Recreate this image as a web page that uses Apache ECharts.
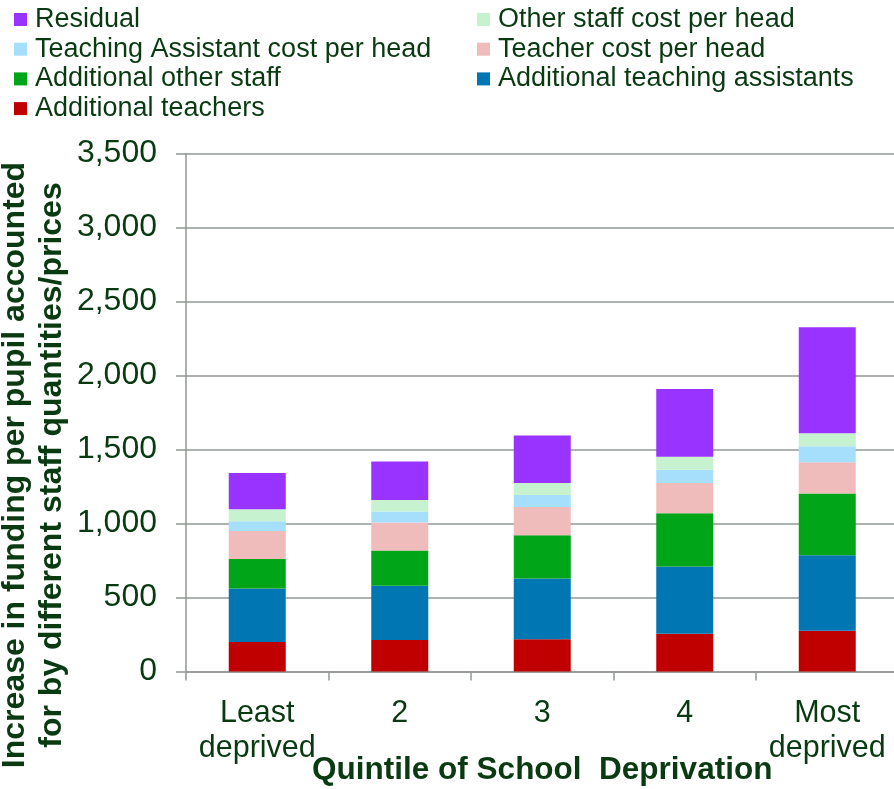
<!DOCTYPE html>
<html>
<head>
<meta charset="utf-8">
<script src="https://cdn.jsdelivr.net/npm/echarts@6/dist/echarts.min.js"></script>
<style>
  html, body { margin: 0; padding: 0; background: #ffffff; }
  #chart { width: 894px; height: 789px; }
</style>
</head>
<body>
<div id="chart"></div>
<script>
// Quintile categories along the x axis
const categories = ['Least\ndeprived', '2', '3', '4', 'Most\ndeprived'];

// Stacked components (bottom to top), £ per pupil
const additionalTeachers = [200, 212, 218, 255, 275];
const additionalTAs = [360, 367, 410, 455, 511];
const additionalOtherStaff = [200, 239, 292, 360, 417];
const teacherCost = [189, 189, 192, 203, 211];
const taCost = [66, 74, 81, 90, 108];
const otherStaffCost = [81, 77, 81, 88, 88];
const residual = [245, 261, 320, 457, 716];

// Value axis ticks
const yTicks = [0, 500, 1000, 1500, 2000, 2500, 3000, 3500];

const TEXT = '#0a3a12';
const GRID = '#939893';
const FONT = '"Liberation Sans", Arial, Helvetica, sans-serif';

const seriesDefs = [
  { name: 'Additional teachers', data: additionalTeachers, color: '#C00000' },
  { name: 'Additional teaching assistants', data: additionalTAs, color: '#0076B3' },
  { name: 'Additional other staff', data: additionalOtherStaff, color: '#00A518' },
  { name: 'Teacher cost per head', data: teacherCost, color: '#EFBBBB' },
  { name: 'Teaching Assistant cost per head', data: taCost, color: '#A6DFFB' },
  { name: 'Other staff cost per head', data: otherStaffCost, color: '#C6F2D0' },
  { name: 'Residual', data: residual, color: '#9933FF' }
];

const chart = echarts.init(document.getElementById('chart'), null, { renderer: 'canvas' });

const legendBase = {
  orient: 'vertical',
  icon: 'rect',
  itemWidth: 13,
  itemHeight: 13,
  itemGap: 2.7,
  padding: 0,
  selectedMode: false,
  textStyle: { color: TEXT, fontSize: 27, fontFamily: FONT, lineHeight: 26, padding: [0, 0, 0, 3] }
};

chart.setOption({
  animation: false,
  textStyle: { fontFamily: FONT },
  legend: [
    Object.assign({}, legendBase, {
      left: 14, top: 6,
      data: ['Residual', 'Teaching Assistant cost per head', 'Additional other staff', 'Additional teachers']
    }),
    Object.assign({}, legendBase, {
      left: 477, top: 6,
      data: ['Other staff cost per head', 'Teacher cost per head', 'Additional teaching assistants']
    })
  ],
  grid: { left: 186, right: -4.5, top: 153.5, bottom: 117.5, containLabel: false, outerBoundsMode: 'none' },
  xAxis: {
    type: 'category',
    data: categories,
    name: 'Quintile of School  Deprivation',
    nameLocation: 'middle',
    nameGap: 83,
    nameMoveOverlap: false,
    nameTextStyle: { color: TEXT, fontSize: 31.5, fontWeight: 'bold', fontFamily: FONT },
    axisLine: { lineStyle: { color: GRID, width: 1.5 } },
    axisTick: { show: true, length: 9, alignWithLabel: false, lineStyle: { color: GRID, width: 1.5 } },
    axisLabel: { color: TEXT, fontSize: 30.5, fontFamily: FONT, lineHeight: 35, margin: 25, interval: 0 }
  },
  yAxis: {
    type: 'value',
    min: yTicks[0],
    max: yTicks[yTicks.length - 1],
    interval: 500,
    axisLine: { show: true, lineStyle: { color: GRID, width: 1.5 } },
    axisTick: { show: true, length: 10, lineStyle: { color: GRID, width: 1.5 } },
    splitLine: { lineStyle: { color: GRID, width: 1.5 } },
    axisLabel: {
      color: TEXT, fontSize: 32, fontFamily: FONT, margin: 29,
      formatter: v => v.toLocaleString('en-GB')
    }
  },
  graphic: [{
    type: 'text',
    x: 34,
    y: 465,
    rotation: Math.PI / 2,
    style: {
      text: 'Increase in funding per pupil accounted\nfor by different staff quantities/prices',
      fill: TEXT,
      font: 'bold 32px ' + FONT,
      lineHeight: 37,
      textAlign: 'center',
      textVerticalAlign: 'middle'
    }
  }],
  series: seriesDefs.map(s => ({
    name: s.name,
    type: 'bar',
    stack: 'total',
    barWidth: 57,
    data: s.data,
    itemStyle: { color: s.color },
    emphasis: { disabled: true }
  }))
});
</script>
</body>
</html>
